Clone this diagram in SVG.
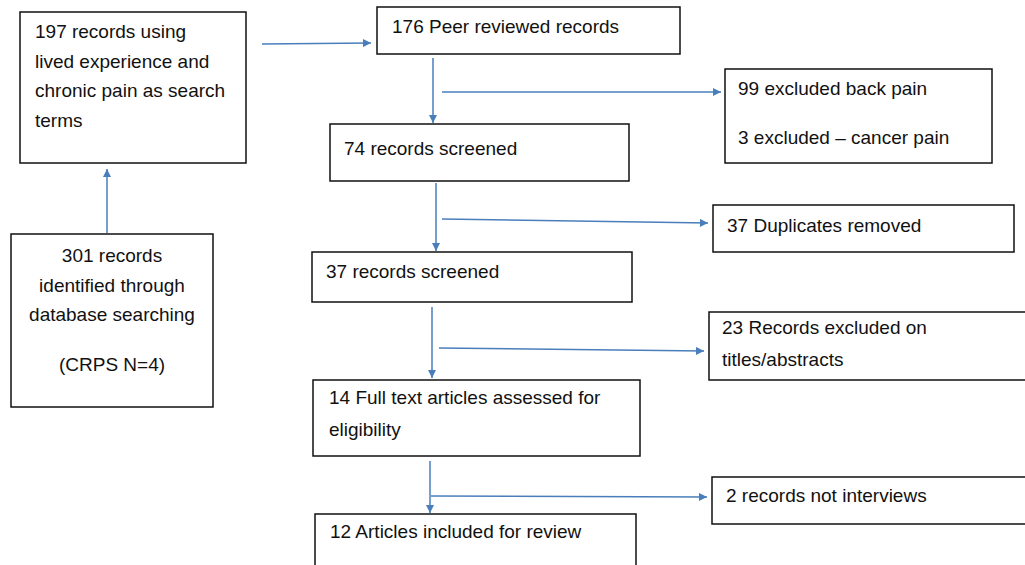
<svg xmlns="http://www.w3.org/2000/svg" width="1025" height="565" viewBox="0 0 1025 565">
<style>
.box{fill:#fff;stroke:#111;stroke-width:1.5}
.t{font-family:"Liberation Sans",Arial,sans-serif;font-size:19px;fill:#111}
.c{text-anchor:middle}
.ln{stroke:#4a7ebb;stroke-width:1.5;fill:none}
</style>
<defs>
<marker id="ah" viewBox="0 0 10 10" refX="10" refY="5" markerWidth="9" markerHeight="8" markerUnits="userSpaceOnUse" orient="auto">
<path d="M0,0 L10,5 L0,10 z" fill="#4a7ebb"/>
</marker>
</defs>
<rect width="1025" height="565" fill="#fff"/>
<g id="connectors">
<line class="ln" x1="262" y1="44" x2="371" y2="43" marker-end="url(#ah)"/>
<line class="ln" x1="107" y1="233" x2="107" y2="169" marker-end="url(#ah)"/>
<line class="ln" x1="433" y1="58" x2="433" y2="123" marker-end="url(#ah)"/>
<line class="ln" x1="442" y1="92" x2="721" y2="92" marker-end="url(#ah)"/>
<line class="ln" x1="436" y1="183" x2="436" y2="251" marker-end="url(#ah)"/>
<line class="ln" x1="442" y1="219" x2="708" y2="223" marker-end="url(#ah)"/>
<line class="ln" x1="432" y1="307" x2="432" y2="378" marker-end="url(#ah)"/>
<line class="ln" x1="439" y1="348" x2="704" y2="351" marker-end="url(#ah)"/>
<line class="ln" x1="430" y1="461" x2="430" y2="513" marker-end="url(#ah)"/>
<line class="ln" x1="431" y1="496" x2="707" y2="497" marker-end="url(#ah)"/>
</g>
<g id="n197">
<rect class="box" x="20" y="12" width="226" height="151"/>
<text class="t" x="35" y="38">197 records using</text>
<text class="t" x="35" y="68">lived experience and</text>
<text class="t" x="35" y="97">chronic pain as search</text>
<text class="t" x="35" y="127">terms</text>
</g>
<g id="n301">
<rect class="box" x="11" y="234" width="202" height="173"/>
<text class="t c" x="112" y="262">301 records</text>
<text class="t c" x="112" y="292">identified through</text>
<text class="t c" x="112" y="321">database searching</text>
<text class="t c" x="112" y="371">(CRPS N=4)</text>
</g>
<g id="n176">
<rect class="box" x="377" y="7" width="303" height="47"/>
<text class="t" x="392" y="33">176 Peer reviewed records</text>
</g>
<g id="nexcl1">
<rect class="box" x="725" y="69" width="267" height="94"/>
<text class="t" x="738" y="95">99 excluded back pain</text>
<text class="t" x="738" y="144">3 excluded – cancer pain</text>
</g>
<g id="n74">
<rect class="box" x="330" y="124" width="299" height="57"/>
<text class="t" x="344" y="155">74 records screened</text>
</g>
<g id="ndup">
<rect class="box" x="713" y="205" width="301" height="47"/>
<text class="t" x="727" y="232">37 Duplicates removed</text>
</g>
<g id="n37">
<rect class="box" x="312" y="252" width="320" height="50"/>
<text class="t" x="326" y="278">37 records screened</text>
</g>
<g id="n23">
<rect class="box" x="709" y="312" width="320" height="68"/>
<text class="t" x="722" y="334">23 Records excluded on</text>
<text class="t" x="722" y="366">titles/abstracts</text>
</g>
<g id="n14">
<rect class="box" x="313" y="380" width="327" height="76"/>
<text class="t" x="329" y="404">14 Full text articles assessed for</text>
<text class="t" x="329" y="436">eligibility</text>
</g>
<g id="n2">
<rect class="box" x="712" y="477" width="317" height="47"/>
<text class="t" x="726" y="502">2 records not interviews</text>
</g>
<g id="n12">
<rect class="box" x="315" y="514" width="321" height="60"/>
<text class="t" x="330" y="538">12 Articles included for review</text>
</g>
</svg>
